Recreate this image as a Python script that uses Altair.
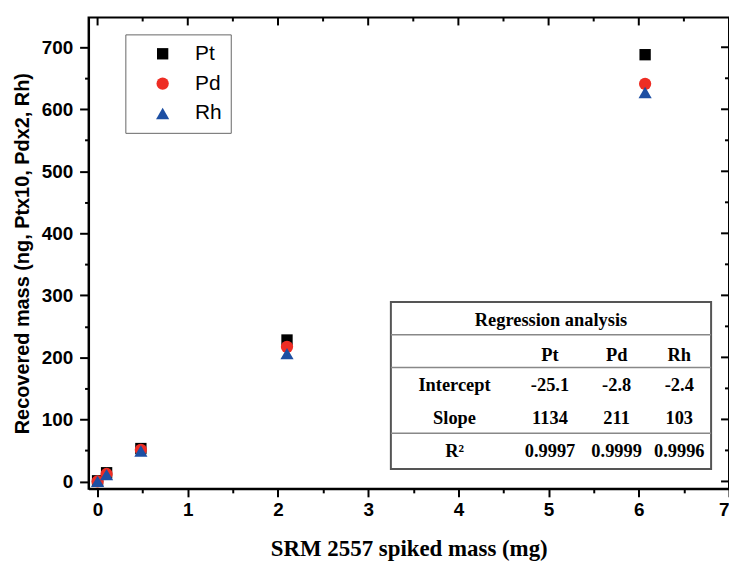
import altair as alt
import pandas as pd

# ---- data ----
mass = [0.0, 0.1, 0.48, 2.1, 6.07]
pt_vals = [1, 14, 53, 228, 688]
pd_vals = [0, 12, 51, 217, 641]
rh_vals = [0, 11, 49, 206, 627]
metals = ["Pt", "Pd", "Rh"]
colors = ["#000000", "#ee2d24", "#1d4fa3"]
shapes = ["square", "circle", "triangle-up"]
sizes = [130, 175, 220]

x_ticks = [0, 0.5, 1, 1.5, 2, 2.5, 3, 3.5, 4, 4.5, 5, 5.5, 6, 6.5, 7]
y_ticks = [0, 50, 100, 150, 200, 250, 300, 350, 400, 450, 500, 550, 600, 650, 700]

table_title = "Regression analysis"
table_cols = ["Pt", "Pd", "Rh"]
table_rows = ["Intercept", "Slope", "R\u00b2"]
intercepts = ["-25.1", "-2.8", "-2.4"]
slopes = ["1134", "211", "103"]
r2s = ["0.9997", "0.9999", "0.9996"]

# ---- build tables ----
rows = []
for m, vals in zip(metals, [pt_vals, pd_vals, rh_vals]):
    for xv, yv in zip(mass, vals):
        rows.append({"metal": m, "x": xv, "y": yv})
pts = pd.DataFrame(rows)

xt = pd.DataFrame({"x": x_ticks, "major": [v % 1 == 0 for v in x_ticks]})
yt = pd.DataFrame({"y": y_ticks, "major": [v % 100 == 0 for v in y_ticks]})
one = pd.DataFrame({"a": [0]})

W, H = 644, 474
LABEL_FONT = "Liberation Sans"
SERIF = "Liberation Serif"

xscale = alt.Scale(domain=[-0.1, 7], nice=False, zero=False)
yscale = alt.Scale(domain=[-12, 748], nice=False, zero=False)

xaxis = alt.Axis(
    values=x_ticks,
    labelExpr="datum.value % 1 === 0 ? format(datum.value, 'd') : ''",
    tickSize={"condition": {"test": "datum.value % 1 === 0", "value": 8}, "value": 4},
    title="SRM 2557 spiked mass (mg)",
    titleFont=SERIF, titleFontSize=23, titleFontWeight="bold", titlePadding=18,
    labelFont=LABEL_FONT, labelFontSize=19, labelFontWeight="bold", labelPadding=4,
    tickColor="black", tickWidth=2, domainColor="black", domainWidth=2,
    labelColor="black", titleColor="black", grid=False,
)
yaxis = alt.Axis(
    values=y_ticks,
    labelExpr="datum.value % 100 === 0 ? format(datum.value, 'd') : ''",
    tickSize={"condition": {"test": "datum.value % 100 === 0", "value": 9}, "value": 4},
    title="Recovered mass (ng, Ptx10, Pdx2, Rh)",
    titleFont=LABEL_FONT, titleFontSize=20, titleFontWeight="bold", titlePadding=9,
    labelFont=LABEL_FONT, labelFontSize=19, labelFontWeight="bold", labelPadding=7,
    tickColor="black", tickWidth=2, domainColor="black", domainWidth=2,
    labelColor="black", titleColor="black", grid=False,
)

xenc = alt.X("x:Q", scale=xscale, axis=xaxis)
yenc = alt.Y("y:Q", scale=yscale, axis=yaxis)

legend = alt.Legend(
    title=None, orient="none", legendX=37, legendY=17,
    strokeColor="#666", fillColor="white", padding=9,
    symbolSize=140, symbolOffset=18, labelOffset=22, rowPadding=8,
    labelFont=LABEL_FONT, labelFontSize=21, labelColor="black",
    symbolStrokeWidth=0,
)

points = alt.Chart(pts).mark_point(filled=True, opacity=1, strokeWidth=0).encode(
    x=xenc,
    y=yenc,
    color=alt.Color("metal:N", scale=alt.Scale(domain=metals, range=colors), legend=legend),
    shape=alt.Shape("metal:N", scale=alt.Scale(domain=metals, range=shapes), legend=legend),
    size=alt.Size("metal:N", scale=alt.Scale(domain=metals, range=sizes), legend=None),
)

# inward ticks on top and right edges
top_major = alt.Chart(xt[xt["major"]]).mark_rule(color="black", strokeWidth=2).encode(
    x=xenc, y=alt.value(0), y2=alt.value(8))
top_minor = alt.Chart(xt[~xt["major"]]).mark_rule(color="black", strokeWidth=2).encode(
    x=xenc, y=alt.value(0), y2=alt.value(4))
right_major = alt.Chart(yt[yt["major"]]).mark_rule(color="black", strokeWidth=2).encode(
    y=yenc, x=alt.value(W), x2=alt.value(W - 8))
right_minor = alt.Chart(yt[~yt["major"]]).mark_rule(color="black", strokeWidth=2).encode(
    y=yenc, x=alt.value(W), x2=alt.value(W - 4))

# regression table (annotation box)
TX0, TX1, TY0, TY1 = 304, 626, 286, 454
box = alt.Chart(one).mark_rect(fill="white", stroke="#555", strokeWidth=2).encode(
    x=alt.value(TX0), x2=alt.value(TX1), y=alt.value(TY0), y2=alt.value(TY1))
line_ys = [319, 352, 418]
lines = [
    alt.Chart(one).mark_rule(color="#888", strokeWidth=1.5).encode(
        x=alt.value(TX0), x2=alt.value(TX1), y=alt.value(ly))
    for ly in line_ys
]
col_x = [368, 464, 531, 594]
row_y = [304, 339, 370, 403, 436]

def cell(txt, x, y):
    return alt.Chart(one).mark_text(
        font=SERIF, fontSize=18.5, fontWeight="bold", color="black", baseline="middle", align="center"
    ).encode(x=alt.value(x), y=alt.value(y), text=alt.value(txt))

texts = [cell(table_title, (TX0 + TX1) / 2, row_y[0])]
for j, c in enumerate(table_cols):
    texts.append(cell(c, col_x[j + 1], row_y[1]))
for i, (lab, vals) in enumerate(zip(table_rows, [intercepts, slopes, r2s])):
    texts.append(cell(lab, col_x[0], row_y[i + 2]))
    for j, v in enumerate(vals):
        texts.append(cell(v, col_x[j + 1], row_y[i + 2]))

chart = alt.layer(
    top_major, top_minor, right_major, right_minor,
    points, box, *lines, *texts,
).properties(
    width=W, height=H,
    autosize=alt.AutoSizeParams(type="none"),
    padding={"left": 81, "top": 8, "right": 0, "bottom": 72},
).configure_view(stroke="black", strokeWidth=2)

chart.save("out.html", embed_options={"renderer": "svg", "actions": False})
